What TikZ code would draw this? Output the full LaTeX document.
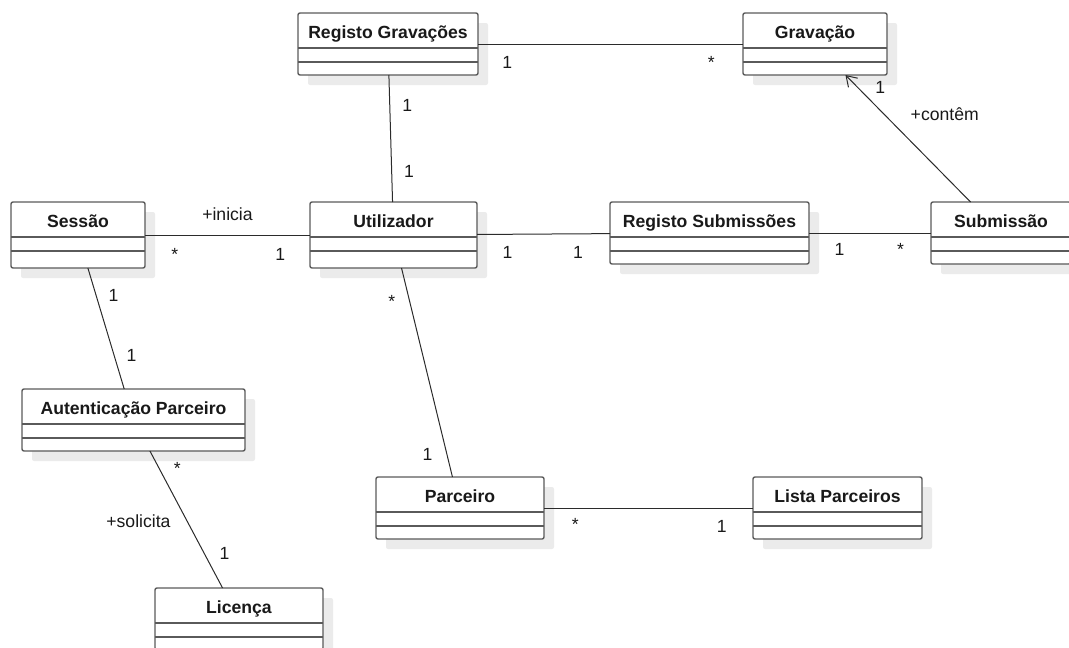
\documentclass[tikz,border=0pt]{standalone}
\usepackage{fontspec}
\setmainfont{Liberation Sans}
\usetikzlibrary{positioning,shadows,arrows.meta}

\definecolor{boxline}{HTML}{5A5A5A}
\definecolor{shadowgray}{HTML}{EBEBEB}
\definecolor{linkline}{HTML}{2B2B2B}

\tikzset{
  classbox/.style={draw=boxline, line width=1.4pt, fill=white, rounded corners=2pt,
    inner sep=0pt, outer sep=0pt,
    drop shadow={shadow xshift=10pt, shadow yshift=-10pt, fill=shadowgray, opacity=1}},
  classname/.style={font=\fontsize{17.6}{20}\selectfont\bfseries, inner sep=0pt, text=black!90},
  classline/.style={draw=boxline, line width=1.4pt},
  assoc/.style={draw=linkline, line width=1pt},
  mult/.style={font=\fontsize{17.6}{20}\selectfont, inner sep=2pt, text=black!90},
}

% name, x, y, width, height, title
\newcommand{\umlclass}[6]{%
  \node[classbox, minimum width=#4pt, minimum height=#5pt, anchor=north west] (#1) at (#2,#3) {};
  \node[classname, anchor=base] (#1-name) at ([yshift=-25pt]#1.north) {#6};
  \draw[classline] ([yshift=-35pt]#1.north west) -- ([yshift=-35pt]#1.north east);
  \draw[classline] ([yshift=-49pt]#1.north west) -- ([yshift=-49pt]#1.north east);
}

\begin{document}
\begin{tikzpicture}[x=1pt, y=-1pt]
  \useasboundingbox (0,0) rectangle (1069,648);

  % classes
  \umlclass{rg}{298}{13}{180}{62}{Registo Gravações}
  \umlclass{grav}{743}{13}{144}{62}{Gravação}
  \umlclass{sess}{11}{202}{134}{66}{Sessão}
  \umlclass{util}{310}{202}{167}{66}{Utilizador}
  \umlclass{rsub}{610}{202}{199}{62}{Registo Submissões}
  \umlclass{sub}{931}{202}{140}{62}{Submissão}
  \umlclass{aut}{22}{389}{223}{62}{Autenticação Parceiro}
  \umlclass{lic}{155}{588}{168}{62}{Licença}
  \umlclass{parc}{376}{477}{168}{62}{Parceiro}
  \umlclass{lista}{753}{477}{169}{62}{Lista Parceiros}

  % associations
  \draw[assoc] (rg) -- (grav)
    node[mult, pos=0.11, below=10pt] {1}
    node[mult, pos=0.88, below=10pt] {*};
  \draw[assoc] (rg) -- (util)
    node[mult, pos=0.24, right=10pt] {1}
    node[mult, pos=0.76, right=10pt] {1};
  \draw[assoc, -{Straight Barb[length=10pt, width=13pt]}] (sub) -- (grav)
    node[mult, pos=0.9, right=15pt] {1}
    node[mult, pos=0.69, right=24pt] {+contêm};
  \draw[assoc] (sess) -- (util)
    node[mult, pos=0.5, above=12pt] {+inicia}
    node[mult, pos=0.18, below=11pt] {*}
    node[mult, pos=0.82, below=11pt] {1};
  \draw[assoc] (util) -- (rsub)
    node[mult, pos=0.23, below=10pt] {1}
    node[mult, pos=0.76, below=10pt] {1};
  \draw[assoc] (rsub) -- (sub)
    node[mult, pos=0.25, below=8pt] {1}
    node[mult, pos=0.75, below=8pt] {*};
  \draw[assoc] (sess) -- (aut)
    node[mult, pos=0.23, right=10pt] {1}
    node[mult, pos=0.72, right=10pt] {1};
  \draw[assoc] (aut) -- (lic)
    node[mult, pos=0.13, right=12pt] {*}
    node[mult, pos=0.51, left=14pt] {+solicita}
    node[mult, pos=0.745, right=13pt] {1};
  \draw[assoc] (util) -- (parc)
    node[mult, pos=0.16, left=12pt] {*}
    node[mult, pos=0.89, left=12pt] {1};
  \draw[assoc] (parc) -- (lista)
    node[mult, pos=0.15, below=8pt] {*}
    node[mult, pos=0.85, below=10pt] {1};
\end{tikzpicture}
\end{document}
